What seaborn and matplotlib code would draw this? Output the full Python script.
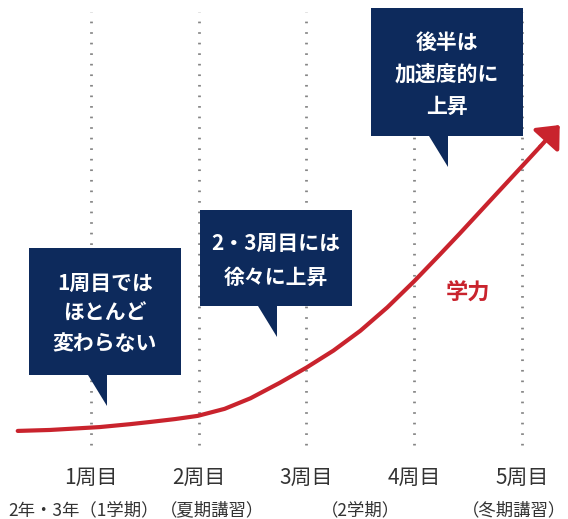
import matplotlib
matplotlib.use("Agg")
import matplotlib.pyplot as plt
from matplotlib.patches import Polygon
import seaborn as sns
import pandas as pd

# ---- data ----
weeks = [0.32, 0.62, 1.08, 1.36, 1.55, 1.78, 1.99, 2.24, 2.48, 2.75, 3.0,
         3.25, 3.50, 3.75, 4.0, 4.24, 4.42, 4.70, 5.0, 5.17]
ability = [4.4, 4.7, 5.6, 6.5, 7.2, 8.1, 9.1, 11.3, 14.6, 19.4, 24.2,
           29.5, 35.7, 43.0, 51.2, 59.6, 66.0, 76.2, 87.1, 93.3]
arrow_tip = (5.35, 100.0)
tick_weeks = [1, 2, 3, 4, 5]
tick_labels = ["1周目", "2周目", "3周目", "4周目", "5周目"]
period_pos = [0.93, 2.12, 3.50, 4.93]
period_labels = ["2年・3年（1学期）", "（夏期講習）", "（2学期）", "（冬期講習）"]
callouts = [
    ["1周目では", "ほとんど", "変わらない"],
    ["2・3周目には", "徐々に上昇"],
    ["後半は", "加速度的に", "上昇"],
]
series_label = "学力"

NAVY = "#0d2a5c"
RED = "#c9232d"

sns.set_theme(style="white")
plt.rcParams["font.family"] = ["Noto Sans CJK JP", "DejaVu Sans"]

fig = plt.figure(figsize=(5.68, 5.19), dpi=100)
ax = fig.add_axes([0, 0, 1, 1])
ax.set_xlim(1 - 91 / 107.75, 1 + (568 - 91) / 107.75)
ax.set_ylim((445 - 519) / 3.2, 445 / 3.2)
ax.axis("off")

# dotted guide lines
ax.vlines(tick_weeks, 0, (445 - 12) / 3.2, colors="#858585", linewidth=2.0,
          linestyles=(0, (0.6, 3.2)), zorder=1)

df = pd.DataFrame({"week": weeks, "ability": ability})
sns.lineplot(data=df, x="week", y="ability", ax=ax, color=RED, linewidth=3.0,
             sort=False, estimator=None, zorder=3, legend=False)
ax.annotate("", xy=arrow_tip, xytext=(weeks[-1], ability[-1]),
            arrowprops=dict(arrowstyle="-|>,head_length=12,head_width=10.5",
                            mutation_scale=1, color=RED, lw=3.0,
                            shrinkA=0, shrinkB=0), zorder=3)

ax.set_xlabel("")
ax.set_ylabel("")

for w, lab in zip(tick_weeks, tick_labels):
    ax.text(w, (445 - 478) / 3.2, lab, ha="center", va="center",
            fontsize=15, color="#333333")
for w, lab in zip(period_pos, period_labels):
    ax.text(w, (445 - 510) / 3.2, lab, ha="center", va="center",
            fontsize=12.5, color="#333333")

# overlay in pixel coordinates for callouts
ov = fig.add_axes([0, 0, 1, 1], zorder=5)
ov.set_xlim(0, 568)
ov.set_ylim(519, 0)
ov.axis("off")
ov.patch.set_alpha(0)

boxes = [
    dict(x0=29, x1=181, y0=248, y1=375, tl=88, tr=107, ty=406, lines=[283, 313, 343]),
    dict(x0=200, x1=352, y0=210, y1=306, tl=258, tr=277, ty=337, lines=[243, 277]),
    dict(x0=371, x1=523, y0=8, y1=136, tl=429, tr=448, ty=167, lines=[42, 74, 106]),
]
for b, texts in zip(boxes, callouts):
    poly = [(b["x0"], b["y0"]), (b["x1"], b["y0"]), (b["x1"], b["y1"]),
            (b["tr"], b["y1"]), (b["tr"], b["ty"]), (b["tl"], b["y1"]),
            (b["x0"], b["y1"])]
    ov.add_patch(Polygon(poly, closed=True, facecolor=NAVY, edgecolor="none"))
    cx = (b["x0"] + b["x1"]) / 2
    for t, y in zip(texts, b["lines"]):
        ov.text(cx, y, t, ha="center", va="center", fontsize=15,
                fontweight="bold", color="white")

ov.text(468, 292, series_label, ha="center", va="center", fontsize=16,
        fontweight="bold", color=RED)

fig.savefig("out.png", dpi=100)
